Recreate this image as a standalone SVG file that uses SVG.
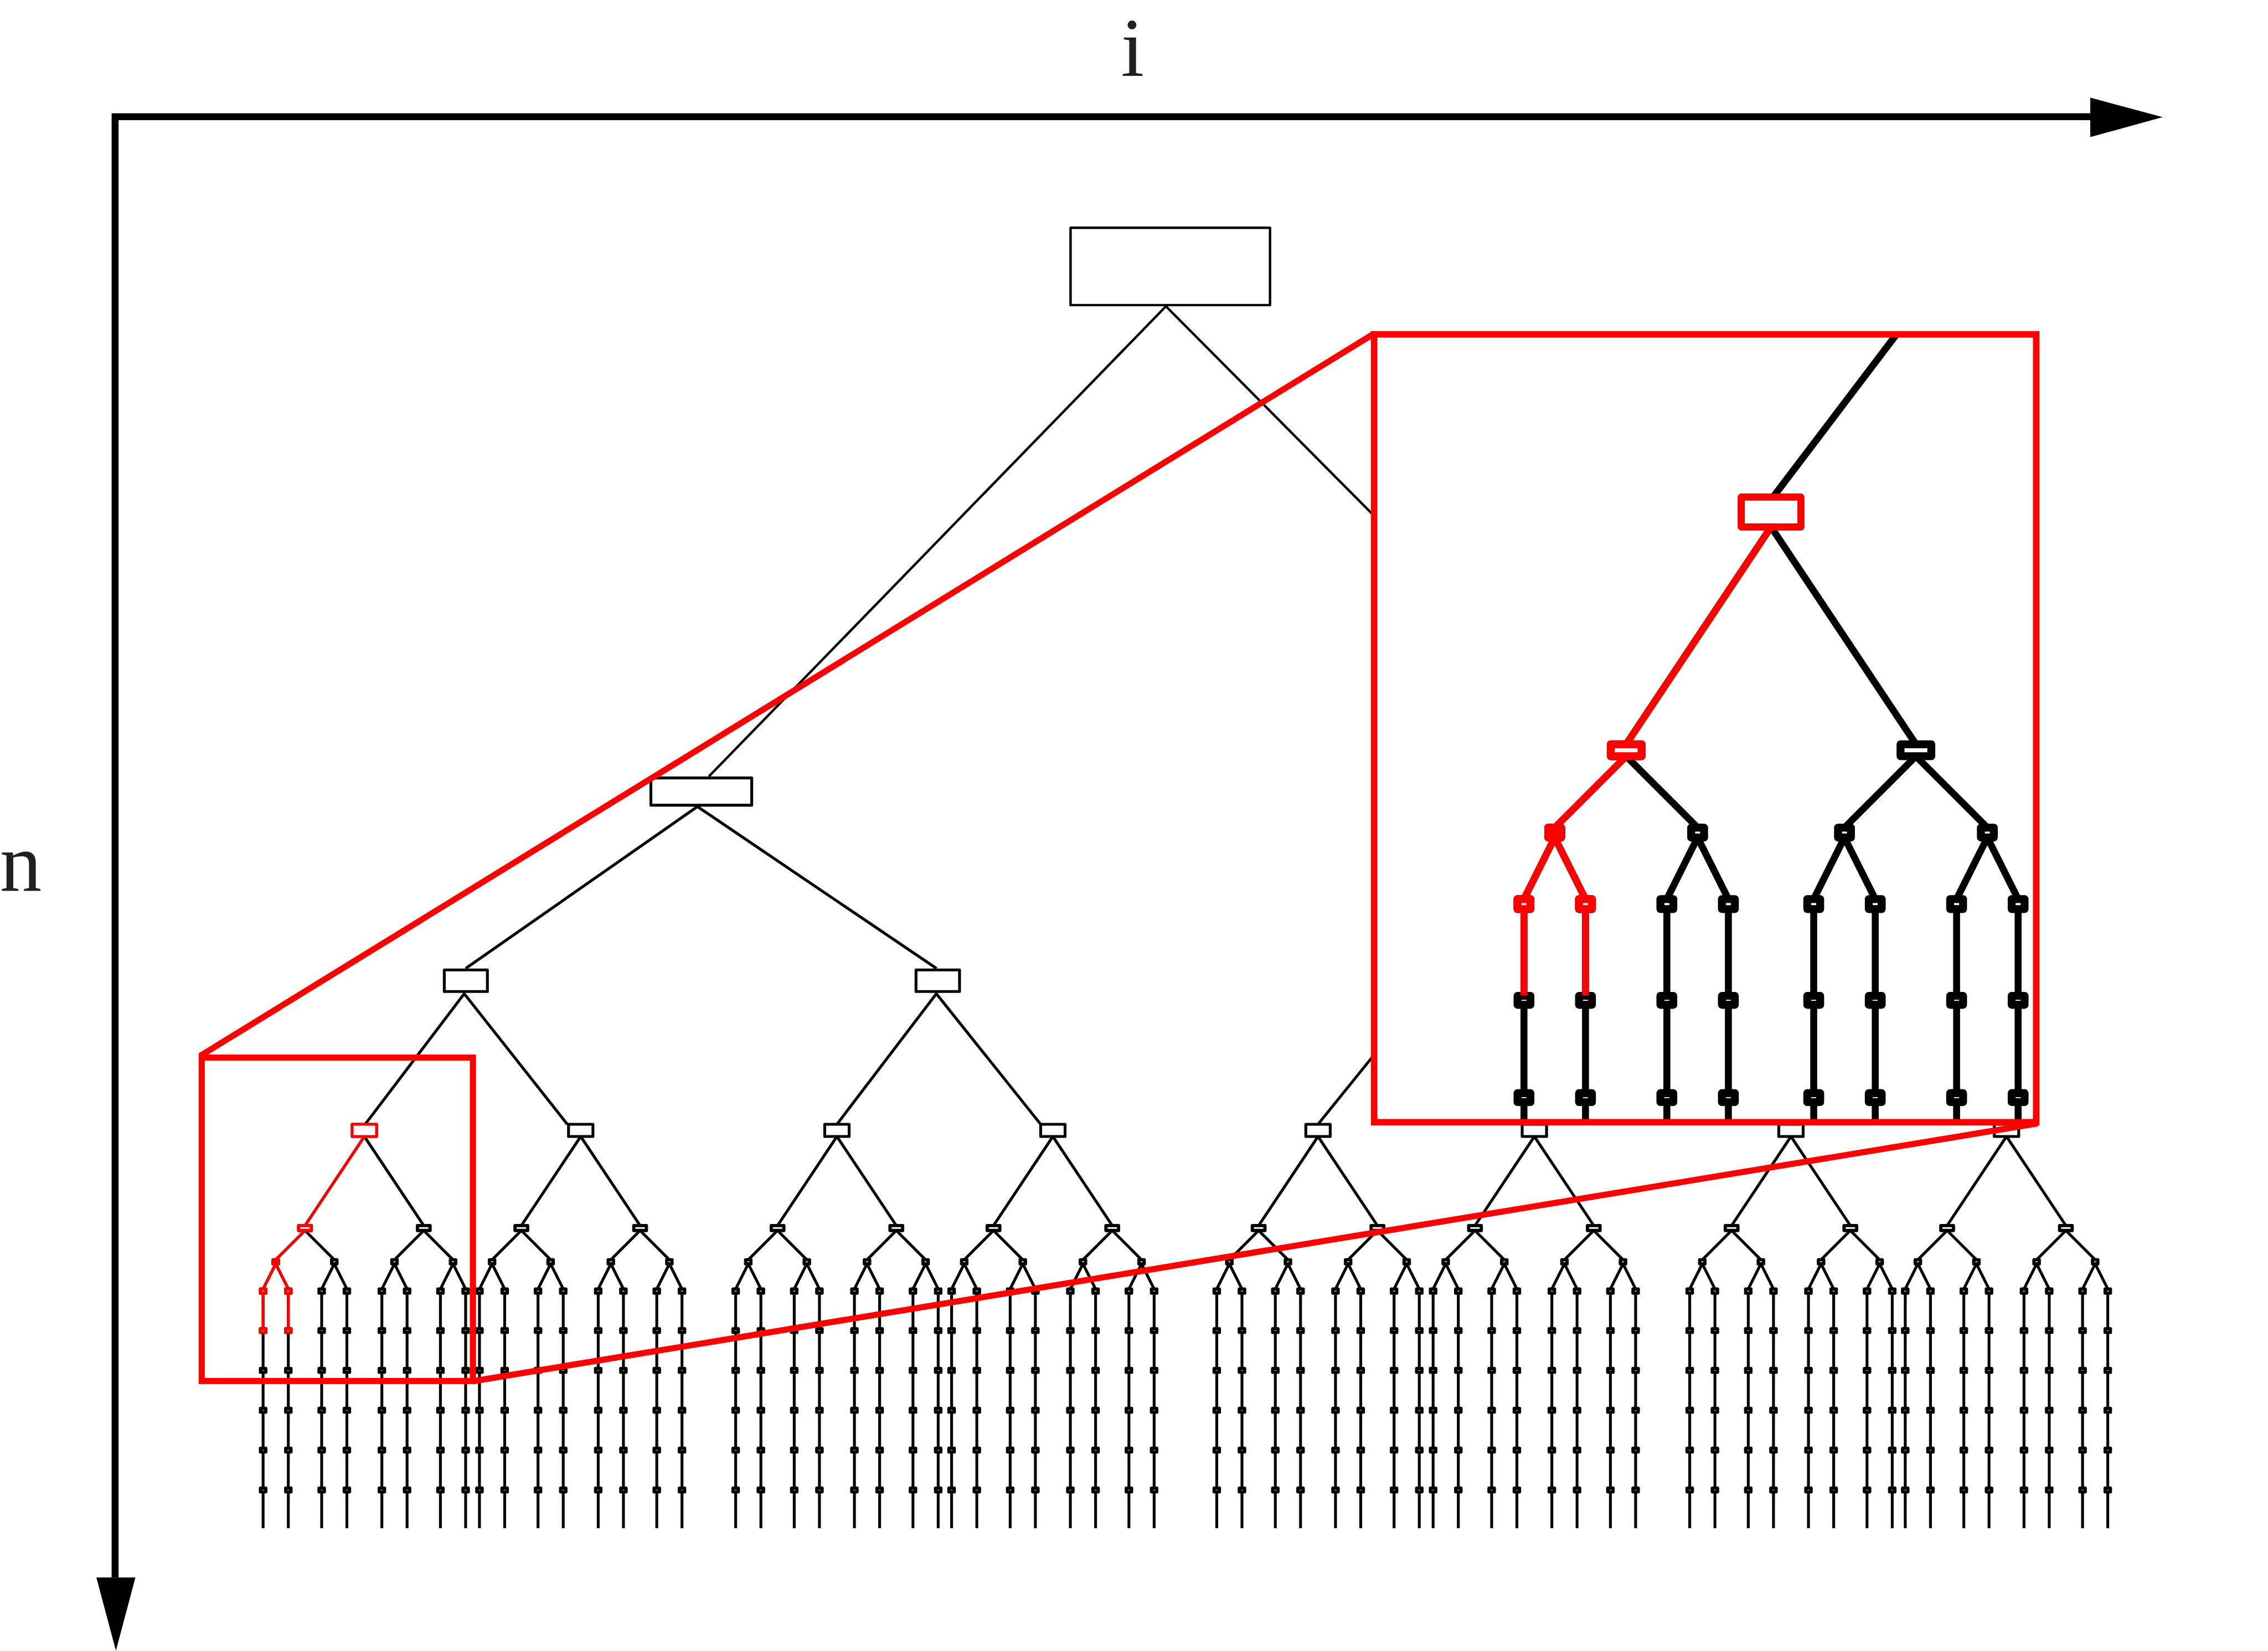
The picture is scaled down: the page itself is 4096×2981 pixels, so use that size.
<svg xmlns="http://www.w3.org/2000/svg" width="4096" height="2981" viewBox="0 0 4096 2981">
<style>
.e{fill:none;stroke:#000;stroke-width:7}
.er{fill:none;stroke:#f00;stroke-width:7}
.n{fill:#fff;stroke:#000;stroke-width:8;stroke-linejoin:round}
.n3{fill:#fff;stroke:#000;stroke-width:7;stroke-linejoin:round}
.big{fill:#fff;stroke:#000;stroke-width:7;stroke-linejoin:round}
.nr{fill:#fff;stroke:#f00;stroke-width:8;stroke-linejoin:round}
.hl{fill:none;stroke:#f00;stroke-width:15}
.axis{fill:none;stroke:#000;stroke-width:17}
.lab{font-family:"Liberation Serif","Times New Roman",serif;font-size:205px;fill:#231f20}
</style>
<defs>
<path id="subE" class="e" d="M0,2794 L-146,3013 M0,2794 L146,3013 M-146,3025 L-218,3097 M-146,3025 L-74,3097 M146,3025 L74,3097 M146,3025 L218,3097 M-218,3107 L-249,3169 M-218,3107 L-187,3169 M-74,3107 L-105,3169 M-74,3107 L-43,3169 M74,3107 L43,3169 M74,3107 L105,3169 M218,3107 L187,3169 M218,3107 L249,3169 M-249,3174 V3757 M-187,3174 V3757 M-105,3174 V3757 M-43,3174 V3757 M43,3174 V3757 M105,3174 V3757 M187,3174 V3757 M249,3174 V3757"/>
<g id="colN" class="n">
<rect x="-6.5" y="3169" width="13" height="10"/>
<rect x="-6.5" y="3266.5" width="13" height="9"/>
<rect x="-6.5" y="3364.5" width="13" height="9"/>
<rect x="-6.5" y="3462.5" width="13" height="9"/>
<rect x="-6.5" y="3560.5" width="13" height="9"/>
<rect x="-6.5" y="3658.5" width="13" height="9"/>
</g>
<g id="subN">
<rect class="n3" x="-30" y="2764" width="60" height="30"/>
<rect class="n" x="-161.5" y="3013" width="31" height="12"/>
<rect class="n" x="130.5" y="3013" width="31" height="12"/>
<rect class="n" x="-224.5" y="3097" width="13" height="10"/>
<rect class="n" x="-80.5" y="3097" width="13" height="10"/>
<rect class="n" x="67.5" y="3097" width="13" height="10"/>
<rect class="n" x="211.5" y="3097" width="13" height="10"/>
<use href="#colN" x="-249"/>
<use href="#colN" x="-187"/>
<use href="#colN" x="-105"/>
<use href="#colN" x="-43"/>
<use href="#colN" x="43"/>
<use href="#colN" x="105"/>
<use href="#colN" x="187"/>
<use href="#colN" x="249"/>
</g>
<clipPath id="insetClip" clipPathUnits="userSpaceOnUse"><rect x="3379" y="822" width="1628" height="1937"/></clipPath>
</defs>
<rect width="4096" height="2981" fill="#fff"/>
<g transform="scale(0.734445)">
<g id="axes">
<path class="axis" d="M283,3878 V287 H5140"/>
<polygon points="5140,240 5318,288 5140,337" fill="#000"/>
<polygon points="237,3878 333,3878 285,4058" fill="#000"/>
<text class="lab" x="2785" y="186" text-anchor="middle">i</text>
<text class="lab" x="0" y="2190">n</text>
</g>
<g id="tree">
<g id="connectors">
<path class="e" style="stroke-width:6" d="M2867,753 L1743,1909 M2867,753 L4016,1909"/>
<path class="e" d="M1715,1983 L1145,2381 M1715,1983 L2303,2381 M1143,2441 L898,2764 M1140,2441 L1395,2764 M2304,2441 L2058,2764 M2301,2441 L2559,2764 M3505,2437 L3241,2764"/>
<use href="#subE" x="896"/>
<use href="#subE" x="1428"/>
<use href="#subE" x="2058"/>
<use href="#subE" x="2589"/>
<use href="#subE" x="3241"/>
<use href="#subE" x="3773"/>
<use href="#subE" x="4404"/>
<use href="#subE" x="4934"/>
</g>
<g id="nodes">
<g id="root"><rect class="big" style="stroke-width:6" x="2632.5" y="560" width="490.5" height="190"/></g>
<g id="n1-left"><rect class="big" x="1600.5" y="1912.5" width="248" height="67"/></g>
<g id="n2-A"><rect class="big" x="1092.5" y="2384.5" width="106" height="53"/></g>
<g id="n2-B"><rect class="big" x="2252.5" y="2384.5" width="107" height="53"/></g>
<use id="n3-A1" href="#subN" x="896"/>
<use id="n3-A2" href="#subN" x="1428"/>
<use id="n3-B1" href="#subN" x="2058"/>
<use id="n3-B2" href="#subN" x="2589"/>
<use id="n3-C1" href="#subN" x="3241"/>
<use id="n3-C2" href="#subN" x="3773"/>
<use id="n3-D1" href="#subN" x="4404"/>
<use id="n3-D2" href="#subN" x="4934"/>
</g>
<g id="highlight">
<path class="er" d="M896,2794 L750,3013 M750,3025 L678,3097 M678,3107 L647,3169 M678,3107 L709,3169 M647,3179 V3266 M709,3179 V3266"/>
<rect class="n3" style="stroke:#f00" x="866" y="2764" width="60" height="30"/>
<rect class="nr" x="734.5" y="3013" width="31" height="12"/>
<rect class="nr" style="fill:#f00" x="671.5" y="3097" width="13" height="10"/>
<rect class="nr" x="640.5" y="3169" width="13" height="10"/>
<rect class="nr" x="702.5" y="3169" width="13" height="10"/>
</g>
</g>
<g id="hl-chain">
<rect class="nr" x="640.5" y="3266.5" width="13" height="9"/>
<rect class="nr" x="702.5" y="3266.5" width="13" height="9"/>
</g>
<g id="zoom-region"><rect class="hl" x="496" y="2600" width="667" height="795"/></g>
<g id="inset">
<rect x="3379" y="822" width="1628" height="1937" fill="#fff"/>
<g clip-path="url(#insetClip)">
<use href="#tree" transform="translate(3379 822) scale(2.44) translate(-496 -2600)"/>
</g>
<rect class="hl" style="stroke-width:16" x="3379" y="822" width="1628" height="1937"/>
</g>
<g id="zoom-lines">
<path class="hl" d="M492,2596 L3379,820 M1166,3395 L5010,2762"/>
</g>
</g>
</svg>
